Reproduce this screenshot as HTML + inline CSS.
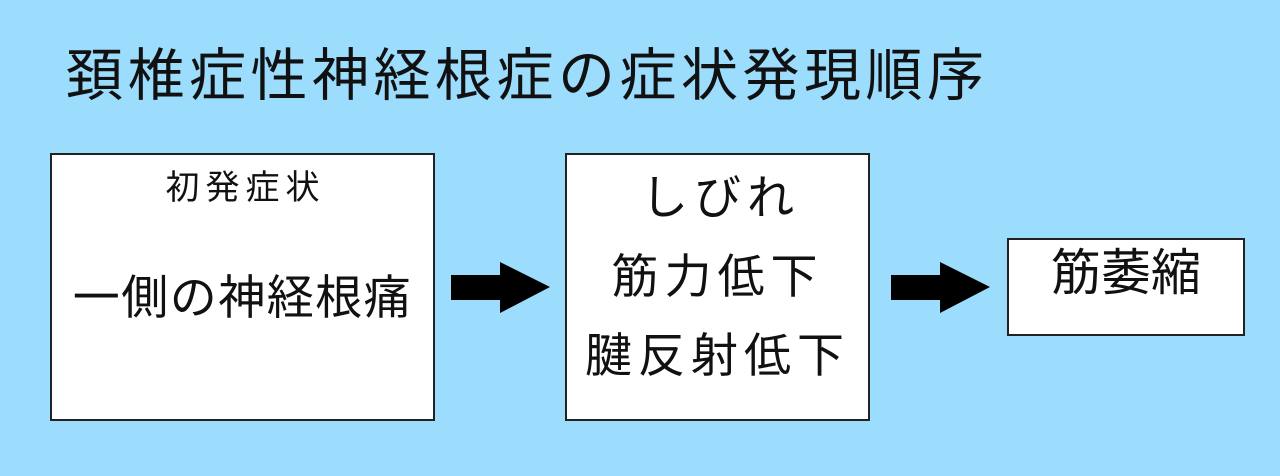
<!DOCTYPE html><html><head><meta charset="utf-8"><style>
body{margin:0;width:1280px;height:476px;background:#9cdcfd;position:relative;overflow:hidden;font-family:"Liberation Sans","Noto Sans CJK JP",sans-serif;color:#111}
.t{position:absolute;white-space:nowrap;line-height:1}
.b{position:absolute;background:#fff;border:2px solid #222;box-sizing:border-box}
</style></head><body>
<div class="t" style="left:66px;top:48px;font-size:57px;letter-spacing:4.5px">頚椎症性神経根症の症状発現順序</div>
<div class="b" style="left:50px;top:153px;width:385px;height:268px"></div>
<div class="t" style="left:50px;width:385px;text-align:center;top:171px;font-size:34px;letter-spacing:6px;text-indent:6px">初発症状</div>
<div class="t" style="left:50px;width:385px;text-align:center;top:274px;font-size:47px;letter-spacing:1.5px">一側の神経根痛</div>
<div class="b" style="left:565px;top:153px;width:305px;height:268px"></div>
<div class="t" style="left:565px;width:305px;text-align:center;top:158px;font-size:47px;line-height:79px;letter-spacing:6px;text-indent:6px">しびれ<br>筋力低下<br>腱反射低下</div>
<div class="b" style="left:1007px;top:238px;width:238px;height:98px"></div>
<div class="t" style="left:1007px;width:238px;text-align:center;top:248px;font-size:50px">筋萎縮</div>
<svg width="1280" height="476" style="position:absolute;left:0;top:0">
<polygon points="451,275 500,275 500,262 550,287 500,313 500,300 451,300" fill="#000"/>
<polygon points="891,275 940,275 940,262 990,287 940,313 940,300 891,300" fill="#000"/>
</svg>
</body></html>
